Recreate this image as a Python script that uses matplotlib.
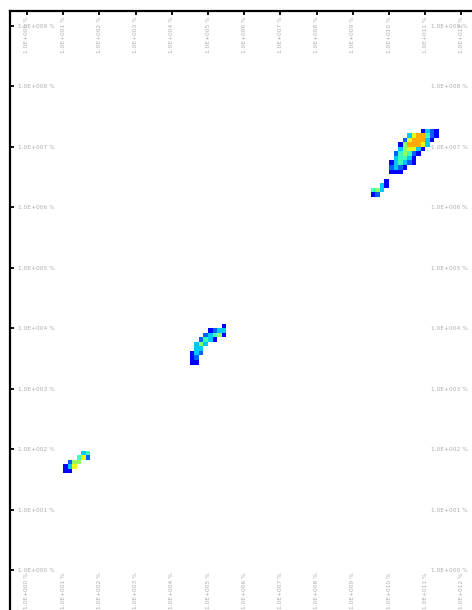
import numpy as np
import matplotlib
matplotlib.use("Agg")
import matplotlib.pyplot as plt
from matplotlib.colors import Normalize

# Tick positions and their labels
x_ticks = list(range(13))
y_ticks = list(range(10))
x_tick_labels = ["1.0E+0%02d %%" % (i) for i in x_ticks]
y_tick_labels = ["1.0E+0%02d %%" % (j) for j in y_ticks]

# Density counts per bin; each row of digits is one row of bins (top to bottom)
# "." is an empty bin, digits are event counts
cluster_upper = [
    "...........1321",
    "........3677421",
    ".......2677731.",
    "......1577763..",
    "......356631...",
    ".....245421....",
    ".....34431.....",
    "....134321.....",
    "....2321.......",
    "....111........",
    "...............",
    "...1...........",
    "..31...........",
    "453............",
    "12.............",
]
cluster_middle = [
    ".......1.",
    "....1233.",
    "...23451.",
    "..2431...",
    ".353.....",
    ".33......",
    "132......",
    "12.......",
    "11.......",
]
cluster_lower = [
    "....34",
    "...462",
    ".255..",
    "136...",
    "11....",
]
# upper-left corner (x, y) of each cluster in data units
cluster_origins = [(9.5, 7.3), (4.5, 4.075), (1.0, 1.975)]
clusters = [cluster_upper, cluster_middle, cluster_lower]

# Bin grid
bin_w, bin_h = 0.125, 0.075
nx, ny = 104, 134
x_edges = -0.5 + bin_w * np.arange(nx + 1)
y_edges = 9.25 - bin_h * np.arange(ny + 1)

counts = np.zeros((ny, nx))
for rows, (ox, oy) in zip(clusters, cluster_origins):
    c0 = int(round((ox + 0.5) / bin_w))
    r0 = int(round((9.25 - oy) / bin_h))
    for r, line in enumerate(rows):
        for c, ch in enumerate(line):
            if ch != ".":
                counts[r0 + r, c0 + c] = int(ch)

density = np.ma.masked_equal(counts, 0)

fig = plt.figure(figsize=(4.72, 6.10), dpi=100)
ax = fig.add_axes([10 / 472, -4 / 610, 466 / 472, 603 / 610])

ax.pcolormesh(x_edges, y_edges, density, cmap="jet",
              norm=Normalize(vmin=-0.18, vmax=9.66), shading="flat")

ax.set_xlim(-0.4696, 12.403)
ax.set_ylim(-0.727, 9.248)

for side in ["left", "right", "top", "bottom"]:
    ax.spines[side].set_linewidth(1.6)
    ax.spines[side].set_color("black")

ax.set_xticks(x_ticks)
ax.set_xticklabels(x_tick_labels)
ax.set_yticks(y_ticks)
ax.set_yticklabels(y_tick_labels)

ax.tick_params(axis="both", direction="in", length=3, width=1.3, color="black",
               labelsize=4.2, labelcolor="#adadad",
               top=True, bottom=True, left=True, right=True,
               labeltop=True, labelbottom=True, labelleft=True, labelright=True)
ax.tick_params(axis="x", pad=-3.6)
ax.tick_params(axis="y", pad=-5.6)

# labels sit inside the frame
for tick in ax.xaxis.get_major_ticks():
    tick.label1.set_rotation(90)
    tick.label1.set_va("bottom")
    tick.label2.set_rotation(90)
    tick.label2.set_va("top")
for tick in ax.yaxis.get_major_ticks():
    tick.label1.set_ha("left")
    tick.label2.set_ha("right")

fig.savefig("out.png", dpi=100)
